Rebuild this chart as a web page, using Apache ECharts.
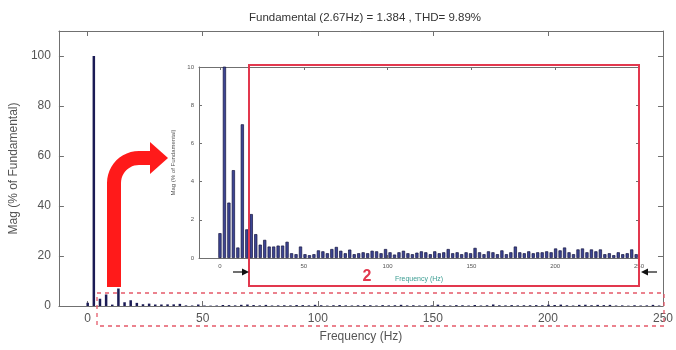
<!DOCTYPE html>
<html>
<head>
<meta charset="utf-8">
<script src="https://cdn.jsdelivr.net/npm/echarts@6/dist/echarts.min.js"></script>
<style>html,body{margin:0;padding:0;background:#fff}#c{width:676px;height:350px}</style>
</head>
<body>
<div id="c"></div>
<script>
// ---- data ----
const titleText = 'Fundamental (2.67Hz) = 1.384 , THD= 9.89%';
const fundamentalHz = 2.67;
// magnitude (% of fundamental) of each harmonic order 0..93
const magnitudes = [
  1.3, 100, 2.9, 4.6, 0.55, 7.0, 1.5, 2.3, 1.25, 0.7,
  0.95, 0.6, 0.6, 0.65, 0.65, 0.85, 0.25, 0.2, 0.6, 0.2,
  0.15, 0.2, 0.4, 0.35, 0.25, 0.47, 0.58, 0.38, 0.25, 0.44,
  0.2, 0.25, 0.3, 0.25, 0.38, 0.35, 0.25, 0.47, 0.3, 0.18,
  0.3, 0.38, 0.25, 0.2, 0.28, 0.35, 0.3, 0.2, 0.35, 0.25,
  0.3, 0.47, 0.25, 0.3, 0.2, 0.3, 0.25, 0.53, 0.3, 0.2,
  0.35, 0.3, 0.2, 0.4, 0.2, 0.3, 0.6, 0.3, 0.25, 0.35,
  0.25, 0.3, 0.3, 0.35, 0.3, 0.5, 0.4, 0.55, 0.3, 0.2,
  0.45, 0.5, 0.3, 0.45, 0.35, 0.45, 0.2, 0.25, 0.15, 0.3,
  0.2, 0.25, 0.45, 0.2
];
const xTicks = [0, 50, 100, 150, 200, 250];
const mainYTicks = [0, 20, 40, 60, 80, 100];
const insetYTicks = [0, 2, 4, 6, 8, 10];

const pairs = magnitudes.map((v, k) => [k * fundamentalHz, v]);

const axisGray = '#707070';
const labelGray = '#555';
const font = 'Liberation Sans, Arial, sans-serif';

function xAx(grid, pos, showLabel, fs, margin) {
  return {
    type: 'value', gridIndex: grid, position: pos, min: -12.5, max: 250,
    axisLine: { show: true, onZero: false, lineStyle: { color: axisGray, width: 1 } },
    axisTick: { show: true, inside: true, length: grid === 0 ? 5 : 3, customValues: xTicks, lineStyle: { color: axisGray } },
    axisLabel: { show: showLabel, customValues: xTicks, color: labelGray, fontSize: fs, fontFamily: font, margin: margin },
    splitLine: { show: false }
  };
}
function yAx(grid, pos, max, ticks, showLabel, fs, margin) {
  return {
    type: 'value', gridIndex: grid, position: pos, min: 0, max: max,
    axisLine: { show: true, onZero: false, lineStyle: { color: axisGray, width: 1 } },
    axisTick: { show: true, inside: true, length: grid === 0 ? 5 : 3, customValues: ticks, lineStyle: { color: axisGray } },
    axisLabel: { show: showLabel, customValues: ticks, color: labelGray, fontSize: fs, fontFamily: font, margin: margin },
    splitLine: { show: false }
  };
}

const xMain = xAx(0, 'bottom', true, 12, 7);
xMain.name = 'Frequency (Hz)'; xMain.nameLocation = 'middle'; xMain.nameGap = 25;
xMain.nameTextStyle = { color: labelGray, fontSize: 12, fontFamily: font };
const yMain = yAx(0, 'left', 110, mainYTicks, true, 12, 8);
yMain.name = 'Mag (% of Fundamental)'; yMain.nameLocation = 'middle'; yMain.nameGap = 37;
yMain.nameTextStyle = { color: labelGray, fontSize: 12, fontFamily: font };

const xIn = xAx(1, 'bottom', true, 6, 5);
xIn.name = 'Frequency (Hz)'; xIn.nameLocation = 'middle'; xIn.nameGap = 18;
xIn.nameTextStyle = { color: '#3d9e93', fontSize: 7, fontFamily: font };
const yIn = yAx(1, 'left', 10, insetYTicks, true, 6, 5);
yIn.name = 'Mag (% of Fundamental)'; yIn.nameLocation = 'middle'; yIn.nameGap = 16;
yIn.nameTextStyle = { color: labelGray, fontSize: 6, fontFamily: font };

const red = '#e2384e';

// decorative curved arrow outline (pixel shape, not data)
function arcPts(cx, cy, r, a0, a1, n) {
  const pts = [];
  for (let i = 0; i <= n; i++) {
    const a = (a0 + (a1 - a0) * i / n) * Math.PI / 180;
    pts.push([cx + r * Math.cos(a), cy + r * Math.sin(a)]);
  }
  return pts;
}
const arrowPts = [[107, 287]]
  .concat(arcPts(139, 183, 32, 180, 270, 12))
  .concat([[150, 151], [150, 142], [168, 158], [150, 174], [150, 165]])
  .concat(arcPts(139, 183, 18, 270, 180, 12))
  .concat([[121, 287]]);

const option = {
  animation: false,
  backgroundColor: '#fff',
  title: {
    text: titleText, left: 360, top: 7, textAlign: 'center',
    textStyle: { color: '#333', fontSize: 11.5, fontWeight: 'normal', fontFamily: font }
  },
  grid: [
    { left: 57, right: 12, top: 31, bottom: 44 },
    { left: 199, right: 37, top: 67, bottom: 92, show: true, backgroundColor: '#fff', borderWidth: 0 }
  ],
  xAxis: [xMain, xAx(0, 'top', false, 12, 7), xIn, xAx(1, 'top', false, 6, 5)],
  yAxis: [yMain, yAx(0, 'right', 110, mainYTicks, false, 12, 8), yIn, yAx(1, 'right', 10, insetYTicks, false, 6, 5)],
  series: [
    {
      type: 'bar', xAxisIndex: 0, yAxisIndex: 0, data: pairs, barWidth: 2.5,
      itemStyle: { color: '#1b1b55' }
    },
    {
      type: 'bar', xAxisIndex: 2, yAxisIndex: 2, data: pairs, barWidth: 3.2, clip: true,
      itemStyle: { color: '#3d4594', borderColor: '#15153f', borderWidth: 0.7 }
    }
  ],
  graphic: [
    { type: 'rect', shape: { x: 249, y: 65, width: 390, height: 221 },
      style: { fill: 'none', stroke: red, lineWidth: 2 }, z: 100 },
    { type: 'rect', shape: { x: 97, y: 293, width: 567, height: 33 },
      style: { fill: 'none', stroke: '#e55a6a', lineWidth: 1.3, lineDash: [4, 4] }, z: 100 },
    { type: 'polygon', z: 100, shape: { points: arrowPts },
      style: { fill: '#ff1a1a', stroke: 'none' } },
    { type: 'text', z: 100, style: { text: '2', x: 367, y: 277, align: 'center', verticalAlign: 'middle',
      fill: red, font: 'bold 16px Liberation Sans, Arial, sans-serif' } },
    { type: 'line', z: 100, shape: { x1: 233, y1: 272, x2: 244, y2: 272 }, style: { stroke: '#111', lineWidth: 1.2 } },
    { type: 'polygon', z: 100, shape: { points: [[249, 272], [242, 268.5], [242, 275.5]] }, style: { fill: '#111' } },
    { type: 'line', z: 100, shape: { x1: 657, y1: 272, x2: 646, y2: 272 }, style: { stroke: '#111', lineWidth: 1.2 } },
    { type: 'polygon', z: 100, shape: { points: [[641, 272], [648, 268.5], [648, 275.5]] }, style: { fill: '#111' } }
  ]
};

const chart = echarts.init(document.getElementById('c'), null, { renderer: 'canvas' });
chart.setOption(option);
</script>
</body>
</html>
